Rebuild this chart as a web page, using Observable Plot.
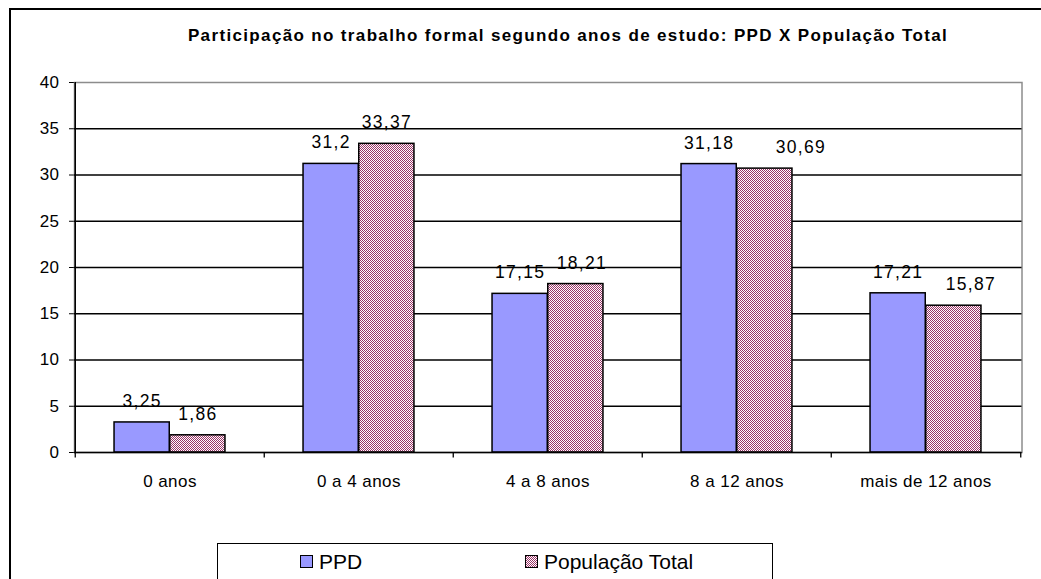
<!DOCTYPE html>
<html>
<head>
<meta charset="utf-8">
<script src="https://cdn.jsdelivr.net/npm/d3@7"></script>
<script src="https://cdn.jsdelivr.net/npm/@observablehq/plot@0.6"></script>
<style>
  html, body { margin: 0; padding: 0; background: #fff; }
  #wrap { position: relative; width: 1041px; height: 579px; overflow: hidden; background: #fff;
          font-family: "Liberation Sans", Arial, sans-serif; color: #000; }
  #frame { position: absolute; left: 9px; top: 8px; width: 1200px; height: 700px;
           border: 2.5px solid #000; box-sizing: border-box; pointer-events: none; }
  #chart { position: absolute; left: 0; top: 0; }
  #chart svg text { letter-spacing: 0.45px; }
  #chart svg g[aria-label="text"] text { letter-spacing: 1.3px; }
  #title { position: absolute; left: 568px; top: 26.5px; transform: translateX(-50%); white-space: nowrap;
           font-weight: bold; font-size: 17px; line-height: 1; letter-spacing: 1.35px; }
  #legend { position: absolute; left: 217px; top: 543px; width: 556px; height: 80px;
            border: 1.5px solid #000; box-sizing: border-box; background: #fff; }
  .lg-item { position: absolute; top: 7px; display: flex; align-items: center; font-size: 21px; line-height: 1; white-space: nowrap; }
  .lg-item svg { margin-right: 6px; }
</style>
</head>
<body>
<div id="wrap">
  <div id="chart"></div>
  <div id="title"></div>
  <div id="legend"></div>
  <div id="frame"></div>
</div>
<script>
// ---- data ----
const titleText = "Participação no trabalho formal segundo anos de estudo: PPD X População Total";
const categories = ["0 anos", "0 a 4 anos", "4 a 8 anos", "8 a 12 anos", "mais de 12 anos"];
const series = ["PPD", "População Total"];
const ppdValues = [3.25, 31.2, 17.15, 31.18, 17.21];
const populacaoValues = [1.86, 33.37, 18.21, 30.69, 15.87];
const yTicks = [0, 5, 10, 15, 20, 25, 30, 35, 40];

// ---- layout ----
const W = 1041, H = 500, ML = 74, MR = 19.5, MT = 82, MB = 48;
const bw = (W - ML - MR) / categories.length;
const barW = bw * 0.294;
const gap = (bw - 2 * barW) / 2;
const colorPPD = "#9999ff";
const fmt = v => String(v).replace(".", ",");
// Excel moved a few overlapping labels sideways
const popLabelNudge = {"4 a 8 anos": 6, "8 a 12 anos": 36, "mais de 12 anos": 17};

const ppdRows = categories.map((c, i) => ({cat: c, serie: series[0], v: ppdValues[i]}));
const popRows = categories.map((c, i) => ({cat: c, serie: series[1], v: populacaoValues[i]}));

const patternDefs = `
  <pattern id="chk" width="2" height="2" patternUnits="userSpaceOnUse">
    <rect width="2" height="2" fill="#ffffff"/>
    <rect width="1" height="1" fill="#993366"/>
    <rect x="1" y="1" width="1" height="1" fill="#993366"/>
  </pattern>`;

const defsMark = () => {
  const d = document.createElementNS("http://www.w3.org/2000/svg", "defs");
  d.innerHTML = patternDefs;
  return d;
};

const chart = Plot.plot({
  width: W, height: H,
  marginLeft: ML, marginRight: MR, marginTop: MT, marginBottom: MB,
  style: {fontFamily: "'Liberation Sans', Arial, sans-serif", fontSize: "17px", color: "#000", background: "#fff", overflow: "visible"},
  x: {domain: categories, padding: 0, tickSize: 0, tickPadding: 22, label: null},
  y: {domain: [0, 40], ticks: yTicks, tickSize: 5, tickPadding: 10, tickFormat: d => String(d), label: null},
  marks: [
    defsMark,
    Plot.frame({stroke: "#8c8c8c", strokeWidth: 1.5}),
    Plot.ruleY(yTicks.filter(t => t > 0 && t < 40), {stroke: "#000", strokeWidth: 1.3}),
    Plot.barY(ppdRows, {x: "cat", y: "v", fill: colorPPD, stroke: "#000", strokeWidth: 1.5,
      insetLeft: gap, insetRight: bw - gap - barW}),
    Plot.barY(popRows, {x: "cat", y: "v", fill: "url(#chk)", stroke: "#000", strokeWidth: 1.5,
      insetLeft: gap + barW, insetRight: gap}),
    Plot.ruleY([0], {stroke: "#000", strokeWidth: 1.5}),
    Plot.ruleX([categories[0]], {dx: -bw / 2, y1: 0, y2: 40, stroke: "#000", strokeWidth: 1.5}),
    Plot.ruleX(categories, {dx: -bw / 2, y1: 0, y2: -0.6, stroke: "#000", strokeWidth: 1.3}),
    Plot.ruleX([categories[categories.length - 1]], {dx: bw / 2, y1: 0, y2: -0.6, stroke: "#000", strokeWidth: 1.3}),
    Plot.text(ppdRows, {x: "cat", y: "v", text: d => fmt(d.v), dx: -barW / 2, dy: -15.5,
      lineAnchor: "bottom", textAnchor: "middle", fill: "#000", fontSize: 17.5}),
    ...popRows.map(r => Plot.text([r], {x: "cat", y: "v", text: d => fmt(d.v),
      dx: barW / 2 + (popLabelNudge[r.cat] || 0), dy: -15.5, lineAnchor: "bottom", textAnchor: "middle", fill: "#000", fontSize: 17.5}))
  ]
});
document.getElementById("chart").appendChild(chart);
document.getElementById("title").textContent = titleText;

// ---- legend ----
const legend = document.getElementById("legend");
const swatches = [
  {label: series[0], fill: colorPPD, left: 82},
  {label: series[1], fill: "url(#chk)", left: 307}
];
swatches.forEach(s => {
  const item = document.createElement("div");
  item.className = "lg-item";
  item.style.left = s.left + "px";
  item.innerHTML = `<svg width="13" height="13" viewBox="0 0 13 13"><rect x="0.5" y="0.5" width="12" height="12" fill="${s.fill}" stroke="#000" stroke-width="1"/></svg><span></span>`;
  item.querySelector("span").textContent = s.label;
  legend.appendChild(item);
});
</script>
</body>
</html>
